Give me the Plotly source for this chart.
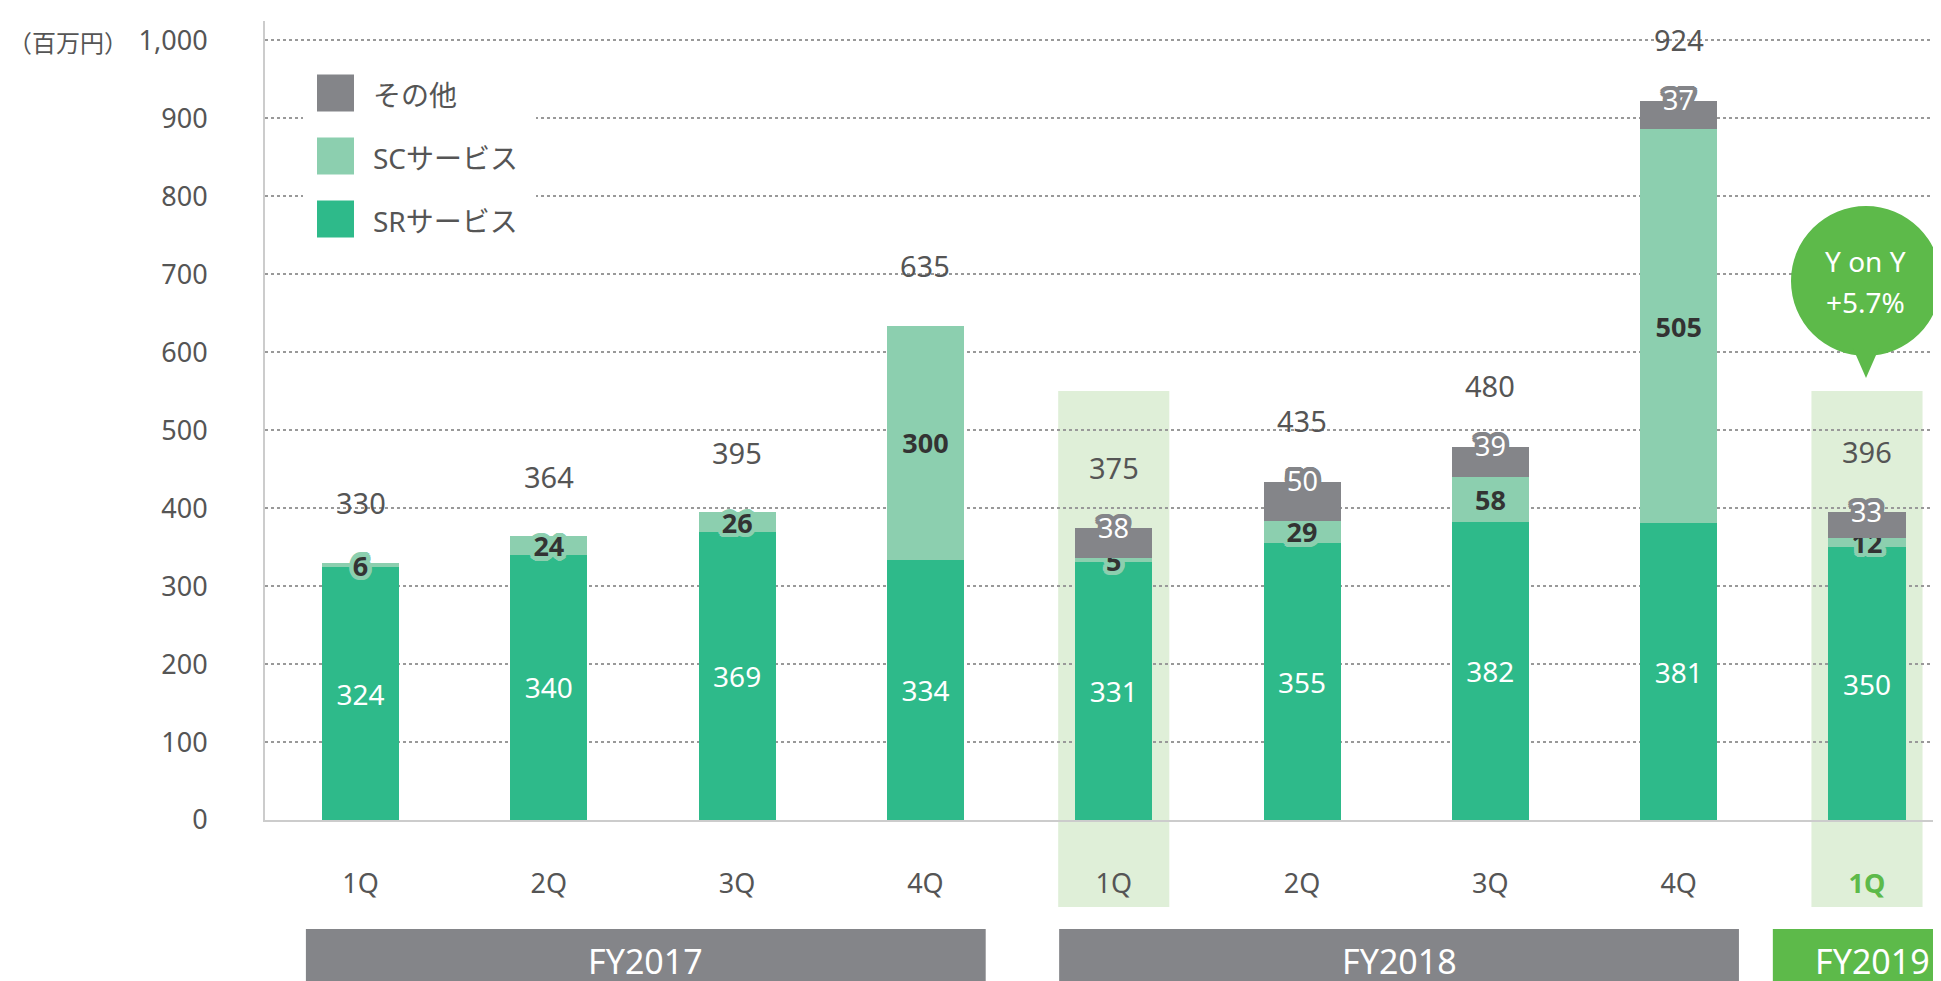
import math
import plotly.graph_objects as go

# ---------------- data ----------------
quarters = ["1Q", "2Q", "3Q", "4Q", "1Q", "2Q", "3Q", "4Q", "1Q"]
sr_service = [324, 340, 369, 334, 331, 355, 382, 381, 350]
sc_service = [6, 24, 26, 300, 5, 29, 58, 505, 12]
other = [0, 0, 0, 0, 38, 50, 39, 37, 33]
totals = [330, 364, 395, 635, 375, 435, 480, 924, 396]
series_names = ["SRサービス", "SCサービス", "その他"]
fiscal_years = ["FY2017", "FY2018", "FY2019"]
fy_first = [0, 4, 8]
fy_last = [3, 7, 8]
highlight = [False, False, False, False, True, False, False, False, True]
yoy_lines = ["Y on Y", "+5.7%"]
unit_label = "（百万円）"

# ---------------- style ----------------
W, H = 1941, 981
ML, MR, MT, MB = 257, 0, 13, 169
PW, PH = W - ML - MR, H - MT - MB
XMIN, XMAX = -0.5072, 8.4355
YMAX = 1025
C_SR = "#2EBA8A"
C_SC = "#8CCFAF"
C_OT = "#848589"
C_HL = "#DFEFD8"
C_GREEN = "#5DBA4A"
C_TXT = "#555555"
FONT = "Noto Sans, Noto Sans CJK JP, sans-serif"
BAR_W = 0.409


def xp(v):  # data x -> paper x
    return (v - XMIN) / (XMAX - XMIN)


def pxx(px):  # pixel x -> paper x
    return (px - ML) / PW


def pxy(py):  # pixel y -> paper y
    return (H - MB - py) / PH


def halo(c, r=4.5):
    offs = []
    for k in range(16):
        a = 2 * math.pi * k / 16
        offs.append(f"{r*math.cos(a):.1f}px {r*math.sin(a):.1f}px 0 {c}")
    offs.append(f"0 0 2px {c}")
    return ", ".join(offs)


xs = list(range(len(quarters)))
fig = go.Figure()

fig.add_trace(go.Bar(
    x=xs, y=sr_service, name=series_names[0], marker_color=C_SR, width=BAR_W,
    text=[str(v) for v in sr_service], textposition="inside",
    insidetextanchor="middle", textangle=0, constraintext="none",
    textfont=dict(color="white", size=28, family=FONT),
    hoverinfo="skip", showlegend=False, marker_line_width=0,
))
fig.add_trace(go.Bar(
    x=xs, y=sc_service, name=series_names[1], marker_color=C_SC, width=BAR_W,
    text=[str(v) for v in sc_service], textposition="inside",
    insidetextanchor="middle", textangle=0, constraintext="none",
    textfont=dict(color="#333333", size=27, family=FONT, weight="bold",
                  shadow=halo(C_SC)),
    hoverinfo="skip", showlegend=False, marker_line_width=0,
))
fig.add_trace(go.Bar(
    x=xs, y=other, name=series_names[2], marker_color=C_OT, width=BAR_W,
    hoverinfo="skip", showlegend=False, marker_line_width=0,
))

annotations = []
shapes = []

# other labels at top of the stack
for i in xs:
    if other[i] > 0:
        top = sr_service[i] + sc_service[i] + other[i]
        annotations.append(dict(
            x=i, y=top, xref="x", yref="y", text=str(other[i]), showarrow=False,
            yanchor="middle", yshift=1,
            font=dict(color="white", size=27, family=FONT, shadow=halo(C_OT))))
# totals
for i in xs:
    annotations.append(dict(
        x=i, y=totals[i], xref="x", yref="y", text=str(totals[i]),
        showarrow=False, yanchor="middle", yshift=60,
        font=dict(color=C_TXT, size=29, family=FONT)))

# highlight columns
for i in xs:
    if highlight[i]:
        shapes.append(dict(type="rect", xref="paper", yref="paper",
                           x0=xp(i - 0.295), x1=xp(i + 0.295),
                           y0=pxy(899), y1=pxy(383),
                           fillcolor=C_HL, line_width=0, layer="below"))

# fiscal-year boxes
for k, fy in enumerate(fiscal_years):
    last = k == len(fiscal_years) - 1
    x0 = xp(fy_first[k] - (0.5 if last else 0.29))
    x1 = xp(fy_last[k] + (0.6 if last else 0.32))
    col = C_GREEN if last else C_OT
    shapes.append(dict(type="rect", xref="paper", yref="paper",
                       x0=x0, x1=x1, y0=pxy(981), y1=pxy(921),
                       fillcolor=col, line_width=0, layer="above"))
    cx = (x0 + x1) / 2 if not last else xp(fy_first[k]) + 6 / PW
    annotations.append(dict(x=cx, y=pxy(953), xref="paper", yref="paper",
                            text=fy, showarrow=False, xanchor="center",
                            yanchor="middle",
                            font=dict(color="white", size=34, family=FONT)))

# legend (manual)
shapes.append(dict(type="rect", xref="paper", yref="paper",
                   x0=pxx(295), x1=pxx(528), y0=pxy(245), y1=pxy(42),
                   fillcolor="white", line_width=0, layer="above"))
leg_items = [(series_names[2], C_OT), (series_names[1], C_SC), (series_names[0], C_SR)]
for j, (nm, col) in enumerate(leg_items):
    cy = 85 + 63 * j
    shapes.append(dict(type="rect", xref="paper", yref="paper",
                       x0=pxx(309), x1=pxx(346), y0=pxy(cy + 18.5), y1=pxy(cy - 18.5),
                       fillcolor=col, line_width=0, layer="above"))
    annotations.append(dict(x=pxx(363), y=pxy(cy + 2), xref="paper", yref="paper",
                            text=nm, showarrow=False, xanchor="left", yanchor="middle",
                            font=dict(color=C_TXT, size=28, family=FONT)))

# Y on Y callout
cxp = (xp(8) * PW + ML) - 1
shapes.append(dict(type="circle", xref="paper", yref="paper",
                   x0=pxx(cxp - 75), x1=pxx(cxp + 75), y0=pxy(348), y1=pxy(198),
                   fillcolor=C_GREEN, line_width=0, layer="above"))
shapes.append(dict(type="path", xref="paper", yref="paper",
                   path=(f"M {pxx(cxp-14)} {pxy(338)} L {pxx(cxp)} {pxy(370)} "
                         f"L {pxx(cxp+14)} {pxy(338)} Z"),
                   fillcolor=C_GREEN, line_width=0, layer="above"))
for j, t in enumerate(yoy_lines):
    annotations.append(dict(x=pxx(cxp), y=pxy(253 + 41 * j), xref="paper", yref="paper",
                            text=t, showarrow=False, xanchor="center", yanchor="middle",
                            font=dict(color="white", size=28, family=FONT)))

# unit label
annotations.append(dict(x=pxx(-2), y=pxy(34), xref="paper", yref="paper",
                        text=unit_label, showarrow=False, xanchor="left",
                        yanchor="middle", font=dict(color=C_TXT, size=24, family=FONT)))

ticktext = [q if i != len(quarters) - 1 else
            f"<b><span style='color:{C_GREEN}'>{q}</span></b>"
            for i, q in enumerate(quarters)]

fig.update_layout(
    width=W, height=H, barmode="stack",
    margin=dict(l=ML, r=MR, t=MT, b=MB, autoexpand=False),
    paper_bgcolor="white", plot_bgcolor="rgba(0,0,0,0)",
    font=dict(family=FONT, color=C_TXT),
    showlegend=False, hovermode=False,
    shapes=shapes, annotations=annotations,
    xaxis=dict(range=[XMIN, XMAX], tickvals=xs, ticktext=ticktext,
               showgrid=False, zeroline=False, showline=True,
               linecolor="#CCCCCC", linewidth=2, ticks="",
               tickfont=dict(size=27, color=C_TXT, family=FONT),
               ticklabelstandoff=39, fixedrange=True),
    yaxis=dict(range=[0, YMAX], tickvals=list(range(0, 1001, 100)),
               tickformat=",d", showgrid=True, gridcolor="#999999",
               griddash="dot", gridwidth=1.5, zeroline=False, showline=True,
               linecolor="#CCCCCC", linewidth=2, ticks="",
               tickfont=dict(size=27, color=C_TXT, family=FONT),
               ticklabelstandoff=50, fixedrange=True),
)

fig.write_html("out.html")
